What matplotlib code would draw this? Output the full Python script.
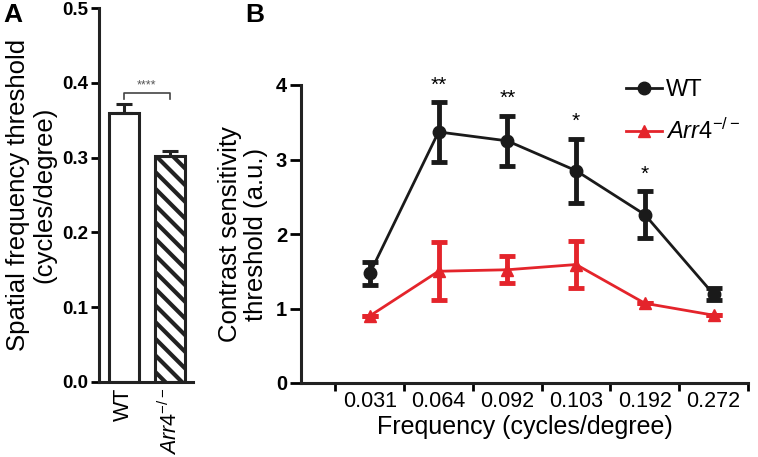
import matplotlib.pyplot as plt
from matplotlib.lines import Line2D
import numpy as np

plt.rcParams['font.family'] = ['Liberation Sans', 'DejaVu Sans']
plt.rcParams['mathtext.fontset'] = 'custom'
plt.rcParams['mathtext.rm'] = 'Liberation Sans'
plt.rcParams['mathtext.it'] = 'Liberation Sans:italic'
plt.rcParams['hatch.linewidth'] = 3

# panel A data
genotypes = ['WT', 'Arr4']
acuity = [0.36, 0.302]
acuity_err = [0.012, 0.007]

# panel B data
freq_labels = ['0.031', '0.064', '0.092', '0.103', '0.192', '0.272']
wt_mean = [1.47, 3.37, 3.25, 2.85, 2.26, 1.19]
wt_err = [0.15, 0.40, 0.34, 0.43, 0.32, 0.08]
ko_mean = [0.90, 1.50, 1.52, 1.59, 1.07, 0.91]
ko_err = [0.0, 0.39, 0.18, 0.32, 0.0, 0.0]
stars = ['', '**', '**', '*', '*', '']

red = '#e4242b'
ko_label = r'$\mathit{Arr4}^{\mathrm{-/-}}$'

fig = plt.figure(figsize=(7.58, 4.57), dpi=100)

# ---- panel A ----
ax1 = fig.add_axes([99/758, 1-382/457, 94/758, 374/457])
xa = np.arange(len(genotypes))
ax1.bar(xa[0], acuity[0], width=0.65, color='white', edgecolor='#222222', linewidth=2.2)
ax1.bar(xa[1], acuity[1], width=0.65, color='white', edgecolor='#222222', linewidth=2.2, hatch='\\\\')
ax1.errorbar(xa, acuity, yerr=[[0, 0], acuity_err], fmt='none', ecolor='#222222',
             elinewidth=2.2, capsize=6, capthick=2.2)
ax1.set_xlim(-0.53, 1.49)
ax1.set_ylim(0, 0.5)
ax1.set_yticks([0.0, 0.1, 0.2, 0.3, 0.4, 0.5])
ax1.set_yticklabels(['0.0', '0.1', '0.2', '0.3', '0.4', '0.5'], fontsize=13.5, fontweight='bold')
ax1.set_xticks(xa)
ax1.set_xticklabels(['WT', ko_label], rotation=90, fontsize=15.5)
ax1.tick_params(axis='x', length=0, pad=4)
ax1.tick_params(axis='y', width=2, length=6, pad=2)
for s in ['top', 'right']:
    ax1.spines[s].set_visible(False)
for s in ['left', 'bottom']:
    ax1.spines[s].set_linewidth(2.2)
    ax1.spines[s].set_color('#222222')
ax1.set_ylabel('Spatial frequency threshold\n(cycles/degree)', fontsize=18.5, labelpad=4, linespacing=1.1)
# significance bracket
ax1.plot([0, 0, 1, 1], [0.379, 0.386, 0.386, 0.379], color='#444444', lw=1.2, clip_on=False)
ax1.text(0.5, 0.388, '****', ha='center', va='bottom', fontsize=9, color='#555555')
fig.text(3/758, 1-22/457, 'A', fontsize=19, fontweight='bold')

# ---- panel B ----
ax2 = fig.add_axes([301/758, 1-383/457, 447/758, 298/457])
xb = np.arange(len(freq_labels))
ax2.errorbar(xb, ko_mean, yerr=ko_err, color=red, marker='^', markersize=8, lw=2,
             elinewidth=3.5, capsize=6, capthick=3.5, zorder=2)
ax2.errorbar(xb, wt_mean, yerr=wt_err, color='#1a1a1a', marker='o', markersize=9, lw=2,
             elinewidth=3.5, capsize=6, capthick=3.5, zorder=3)
for i, s in enumerate(stars):
    if s:
        ax2.text(xb[i], wt_mean[i] + wt_err[i] + 0.1, s, ha='center', va='bottom', fontsize=15)
ax2.set_xlim(-1, 5.5)
ax2.set_ylim(0, 4)
ax2.set_yticks([0, 1, 2, 3, 4])
ax2.set_yticklabels(['0', '1', '2', '3', '4'], fontsize=14.5, fontweight='bold')
ax2.set_xticks(xb)
ax2.set_xticklabels(freq_labels, fontsize=15.5)
ax2.set_xticks(np.arange(-0.5, 6, 1), minor=True)
ax2.tick_params(axis='x', which='major', length=0, pad=6)
ax2.tick_params(axis='x', which='minor', length=6, width=2)
ax2.tick_params(axis='y', width=2, length=8, pad=2)
for s in ['top', 'right']:
    ax2.spines[s].set_visible(False)
for s in ['left', 'bottom']:
    ax2.spines[s].set_linewidth(2.2)
    ax2.spines[s].set_color('#222222')
ax2.set_ylabel('Contrast sensitivity\nthreshold (a.u.)', fontsize=18.5, labelpad=6, linespacing=1.1)
ax2.set_xlabel('Frequency (cycles/degree)', fontsize=18, labelpad=2)
handles = [Line2D([], [], color='#1a1a1a', marker='o', markersize=9, lw=2),
           Line2D([], [], color=red, marker='^', markersize=9, lw=2)]
ax2.legend(handles, ['WT', ko_label], loc='upper right', bbox_to_anchor=(1.03, 1.09), frameon=False,
           fontsize=17, handlelength=1.5, handletextpad=0.2, labelspacing=0.75)
fig.text(245/758, 1-22/457, 'B', fontsize=19, fontweight='bold')

fig.savefig('out.png', dpi=100)
